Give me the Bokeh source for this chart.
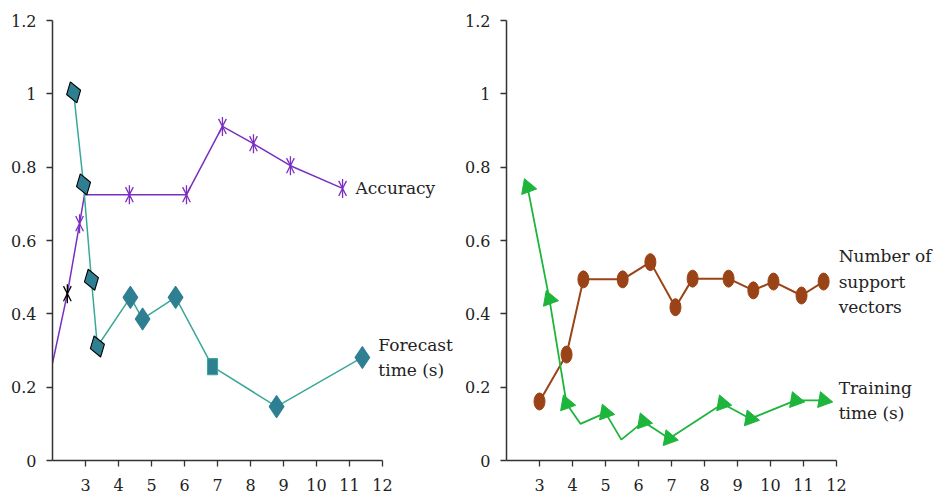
from bokeh.plotting import figure
from bokeh.layouts import row
from bokeh.models import Range1d, FixedTicker, Label
from bokeh.embed import file_html
from bokeh.resources import INLINE
import math

# ---------------- data ----------------
x_ticks = [3, 4, 5, 6, 7, 8, 9, 10, 11, 12]
y_ticks = [0, 0.2, 0.4, 0.6, 0.8, 1, 1.2]
y_tick_labels = ["0", "0.2", "0.4", "0.6", "0.8", "1", "1.2"]

# left panel
acc_x = [2.0, 2.45, 2.82, 2.97, 4.33, 6.06, 7.15, 8.09, 9.21, 10.79]
acc_y = [0.265, 0.455, 0.646, 0.725, 0.725, 0.725, 0.911, 0.864, 0.804, 0.742]
acc_marked = [False, True, True, False, True, True, True, True, True, True]
acc_label = "Accuracy"

fc_x = [2.64, 2.94, 3.18, 3.36, 4.36, 4.73, 5.73, 6.85, 8.79, 11.39]
fc_y = [1.004, 0.753, 0.493, 0.311, 0.445, 0.386, 0.445, 0.256, 0.147, 0.281]
fc_shape = ["diamond"] * 7 + ["square"] + ["diamond"] * 2
fc_label = "Forecast\ntime (s)"

# right panel
sv_x = [3.0, 3.82, 4.33, 5.52, 6.36, 7.12, 7.64, 8.73, 9.48, 10.09, 10.94, 11.61]
sv_y = [0.161, 0.289, 0.494, 0.494, 0.541, 0.418, 0.496, 0.496, 0.464, 0.488, 0.450, 0.488]
sv_label = "Number of\nsupport\nvectors"

tr_x = [2.64, 3.30, 3.82, 4.24, 5.00, 5.48, 6.15, 6.93, 8.55, 9.39, 10.76, 11.61]
tr_y = [0.745, 0.44, 0.155, 0.10, 0.13, 0.057, 0.106, 0.06, 0.155, 0.114, 0.164, 0.164]
tr_marked = [True, True, True, False, True, False, True, True, True, True, True, True]
tr_label = "Training\ntime (s)"

# ---------------- style ----------------
FONT = "DejaVu Serif"
PURPLE = "#7a2fc0"
TEAL_LINE = "#3aa898"
TEAL_FILL = "#2f7f92"
BROWN = "#9a4316"
GREEN = "#1db53c"
AXIS = "#333333"
TXT = "#222222"
PX_PER_UNIT = 33.0   # 10 x-units span 330 px


def make_fig(border_left, frame_w):
    x_end = 2 + frame_w / PX_PER_UNIT
    p = figure(width=border_left + frame_w, height=497,
               x_range=Range1d(2, x_end), y_range=Range1d(0, 1.2),
               output_backend="svg", toolbar_location=None,
               min_border_left=border_left, min_border_right=0,
               min_border_top=20, min_border_bottom=37)
    p.outline_line_color = None
    p.grid.visible = False
    p.background_fill_color = "white"
    p.border_fill_color = "white"
    p.xaxis.bounds = (2, 12)
    p.xaxis.ticker = FixedTicker(ticks=x_ticks)
    p.yaxis.ticker = FixedTicker(ticks=y_ticks)
    p.yaxis.major_label_overrides = {t: s for t, s in zip(y_ticks, y_tick_labels)}
    for ax in (p.xaxis, p.yaxis):
        ax.axis_line_color = AXIS
        ax.axis_line_width = 1.5
        ax.major_tick_line_color = AXIS
        ax.major_tick_line_width = 1.3
        ax.major_tick_in = 0
        ax.major_tick_out = 6
        ax.minor_tick_line_color = None
        ax.major_label_text_font = FONT
        ax.major_label_text_font_size = "16px"
        ax.major_label_text_color = TXT
    p.xaxis.major_label_standoff = 12
    p.yaxis.major_label_standoff = 10
    return p


def series_label(p, xs, ys, text, dx):
    p.add_layout(Label(x=xs[-1], y=ys[-1], text=text, x_offset=dx,
                       text_font=FONT, text_font_size="17px", text_color=TXT,
                       text_align="left", text_baseline="middle",
                       text_line_height=1.28))


# ---------------- left panel ----------------
p1 = make_fig(52, 402)
p1.line(acc_x, acc_y, line_color=PURPLE, line_width=1.5)
ax_m = [x for x, m in zip(acc_x, acc_marked) if m]
ay_m = [y for y, m in zip(acc_y, acc_marked) if m]
acol = ["black" if i == 1 else PURPLE for i, m in enumerate(acc_marked) if m]
for ang, sz in ((math.pi / 2, 19), (1.1, 17), (-1.1, 17)):
    p1.scatter(ax_m, ay_m, marker="dash", angle=ang, size=sz,
               line_color=acol, line_width=1.3)
series_label(p1, acc_x, acc_y, acc_label, 13)

p1.line(fc_x, fc_y, line_color=TEAL_LINE, line_width=1.5)
d_idx = [i for i, s in enumerate(fc_shape) if s == "diamond"]
p1.scatter([fc_x[i] for i in d_idx], [fc_y[i] for i in d_idx], marker="diamond",
           size=22, angle=[0.3 if i < 4 else 0.0 for i in d_idx],
           fill_color=TEAL_FILL,
           line_color=["black" if i < 4 else TEAL_FILL for i in d_idx],
           line_width=1.1)
s_idx = [i for i, s in enumerate(fc_shape) if s == "square"]
p1.rect([fc_x[i] for i in s_idx], [fc_y[i] for i in s_idx], width=10, height=16,
        width_units="screen", height_units="screen",
        fill_color=TEAL_FILL, line_color=TEAL_LINE, line_width=1.1)
series_label(p1, fc_x, fc_y, fc_label, 16)

# ---------------- right panel ----------------
p2 = make_fig(52, 428)
p2.line(sv_x, sv_y, line_color=BROWN, line_width=2)
p2.ellipse(sv_x, sv_y, width=11, height=17, width_units="screen",
           height_units="screen", fill_color=BROWN, line_color=BROWN)
series_label(p2, sv_x, sv_y, sv_label, 15)

p2.line(tr_x, tr_y, line_color=GREEN, line_width=1.8)
p2.scatter([x for x, m in zip(tr_x, tr_marked) if m],
           [y for y, m in zip(tr_y, tr_marked) if m],
           marker="triangle", size=16, angle=0.35,
           fill_color=GREEN, line_color=GREEN)
series_label(p2, tr_x, tr_y, tr_label, 15)

layout = row(p1, p2, spacing=0)
open("out.html", "w").write(file_html(layout, INLINE))
